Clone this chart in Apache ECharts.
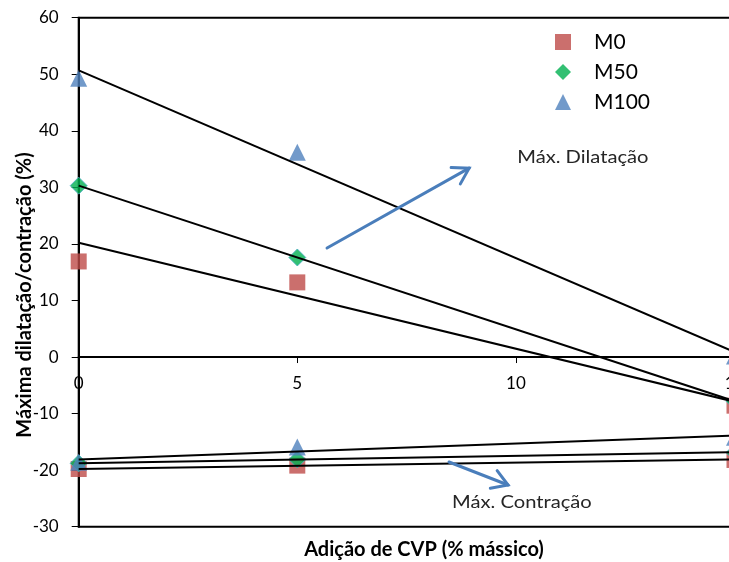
<!DOCTYPE html>
<html>
<head>
<meta charset="utf-8">
<script src="https://cdn.jsdelivr.net/npm/echarts@6/dist/echarts.min.js"></script>
<style>html,body{margin:0;padding:0;background:#fff}#c{width:729px;height:562px}</style>
</head>
<body>
<div id="c"></div>
<script>
// ---- data ----
const xValues = [0, 5, 15];
const seriesNames = ['M0', 'M50', 'M100'];
// maximum dilatation (%)
const m0Dil = [16.9, 13.2, -8.6];
const m50Dil = [30.3, 17.6, -7.8];
const m100Dil = [49.3, 36.2, 0.2];
// maximum contraction (%)
const m0Con = [-19.8, -19.2, -18.2];
const m50Con = [-18.8, -18.1, -16.9];
const m100Con = [-18.6, -15.9, -14.2];
// linear trend lines (values at x = 0 and x = 15)
const trendX = [0, 15];
const trendM0Dil = [20.2, -7.9];
const trendM50Dil = [30.3, -7.8];
const trendM100Dil = [50.7, 0.9];
const trendM0Con = [-19.8, -18.1];
const trendM50Con = [-18.8, -16.8];
const trendM100Con = [-18.1, -13.9];
// axis ticks
const xTicks = [0, 5, 10, 15];
const yTicks = [-30, -20, -10, 0, 10, 20, 30, 40, 50, 60];
const yMin = -30, yMax = 60, xMin = 0, xMax = 15;

const FONT = 'Lato';
const colors = { M0: '#BE4B48', M50: '#00B050', M100: '#4F81BD' };
const symbols = { M0: 'rect', M50: 'diamond', M100: 'triangle' };
const sizes = { M0: 16, M50: 17, M100: 17 };

function pts(xs, ys) { return xs.map((x, i) => [x, ys[i]]); }

const scatterSets = [
  ['M0', m0Dil, m0Con],
  ['M50', m50Dil, m50Con],
  ['M100', m100Dil, m100Con]
];
const series = [];
scatterSets.forEach(([name, dil, con]) => {
  series.push({
    name, type: 'scatter', z: 2,
    symbol: symbols[name], symbolSize: sizes[name],
    itemStyle: name === 'M50'
      ? { color: colors[name], borderColor: '#4BACC6', borderWidth: 1 }
      : { color: colors[name] },
    data: pts(xValues, dil).concat(pts(xValues, con)),
    clip: false
  });
});
[trendM0Dil, trendM50Dil, trendM100Dil, trendM0Con, trendM50Con, trendM100Con].forEach(t => {
  series.push({
    type: 'line', z: 5, symbol: 'none', silent: true,
    lineStyle: { color: '#000', width: 2 },
    data: pts(trendX, t)
  });
});

const W = 729, H = 562;
const G = { left: 78.7, top: 17.7, right: -5.5, bottom: 35.3 };
const gridH = H - G.top - G.bottom;
const zeroOffset = -gridH * (0 - yMin) / (yMax - yMin);

const chart = echarts.init(document.getElementById('c'));
chart.setOption({
  animation: false,
  backgroundColor: '#fff',
  grid: Object.assign({ show: true, borderColor: '#000', borderWidth: 2, backgroundColor: 'transparent',
    outerBoundsMode: 'none', containLabel: false }, G),
  legend: {
    data: seriesNames.map(n => ({ name: n, icon: symbols[n] })),
    orient: 'vertical', left: 550, top: 26, itemWidth: 16, itemHeight: 16, itemGap: 8,
    textStyle: { fontFamily: FONT, fontSize: 21, lineHeight: 22, color: '#000', padding: [0, 0, 0, 18] },
    itemStyle: { borderWidth: 0 }
  },
  xAxis: {
    type: 'value', min: xMin, max: xMax, interval: 5,
    offset: zeroOffset,
    axisLine: { onZero: false, lineStyle: { color: '#000', width: 2 } },
    axisTick: { show: true, length: 6, lineStyle: { color: '#000', width: 1 } },
    axisLabel: { fontFamily: FONT, fontSize: 17, lineHeight: 17, color: '#000', margin: 18,
      formatter: v => xTicks.includes(v) ? String(v) : '' },
    splitLine: { show: false }
  },
  yAxis: {
    type: 'value', min: yMin, max: yMax, interval: 10,
    axisLine: { show: true, lineStyle: { color: '#000', width: 2 } },
    axisTick: { show: true, length: 7, lineStyle: { color: '#000', width: 1 } },
    axisLabel: { fontFamily: FONT, fontSize: 17, color: '#000', margin: 20,
      formatter: v => yTicks.includes(v) ? String(v) : '' },
    splitLine: { show: false }
  },
  series
});

// ---- annotations (anchored in data coordinates) ----
const annDil = { from: [5.68, 19.27], to: [8.93, 33.4], text: 'Máx. Dilatação', at: [10.03, 35.36] };
const annCon = { from: [8.47, -18.56], to: [9.82, -22.63], text: 'Máx. Contração', at: [8.54, -25.64] };
const graphics = [];
[annDil, annCon].forEach(a => {
  const p0 = chart.convertToPixel({ gridIndex: 0 }, a.from);
  const p1 = chart.convertToPixel({ gridIndex: 0 }, a.to);
  const ang = Math.atan2(p1[1] - p0[1], p1[0] - p0[0]);
  const L = 18, w = 0.55;
  const wa = [p1[0] - L * Math.cos(ang - w), p1[1] - L * Math.sin(ang - w)];
  const wb = [p1[0] - L * Math.cos(ang + w), p1[1] - L * Math.sin(ang + w)];
  graphics.push({ type: 'line', z: 10, shape: { x1: p0[0], y1: p0[1], x2: p1[0], y2: p1[1] },
    style: { stroke: '#4A7EBB', lineWidth: 3, lineCap: 'round' } });
  graphics.push({ type: 'polyline', z: 10, shape: { points: [wa, p1, wb] },
    style: { stroke: '#4A7EBB', lineWidth: 3, fill: null, lineCap: 'round', lineJoin: 'miter' } });
  const pt = chart.convertToPixel({ gridIndex: 0 }, a.at);
  graphics.push({ type: 'text', z: 10, x: pt[0], y: pt[1], scaleX: 1.12,
    style: { text: a.text, fontFamily: FONT, fontSize: 18, fill: '#262626', verticalAlign: 'middle', align: 'left' } });
});
// axis titles
graphics.push({ type: 'text', z: 10, x: 424, y: 550,
  style: { text: 'Adição de CVP (% mássico)', fontFamily: FONT, fontSize: 20, fontWeight: 'bold', fill: '#000',
    align: 'center', verticalAlign: 'middle' } });
graphics.push({ type: 'text', z: 10, x: 24.5, y: 295, rotation: Math.PI / 2,
  style: { text: 'Máxima dilatação/contração (%)', fontFamily: FONT, fontSize: 20, fontWeight: 'bold', fill: '#000',
    align: 'center', verticalAlign: 'middle' } });
chart.setOption({ graphic: graphics });
</script>
</body>
</html>
